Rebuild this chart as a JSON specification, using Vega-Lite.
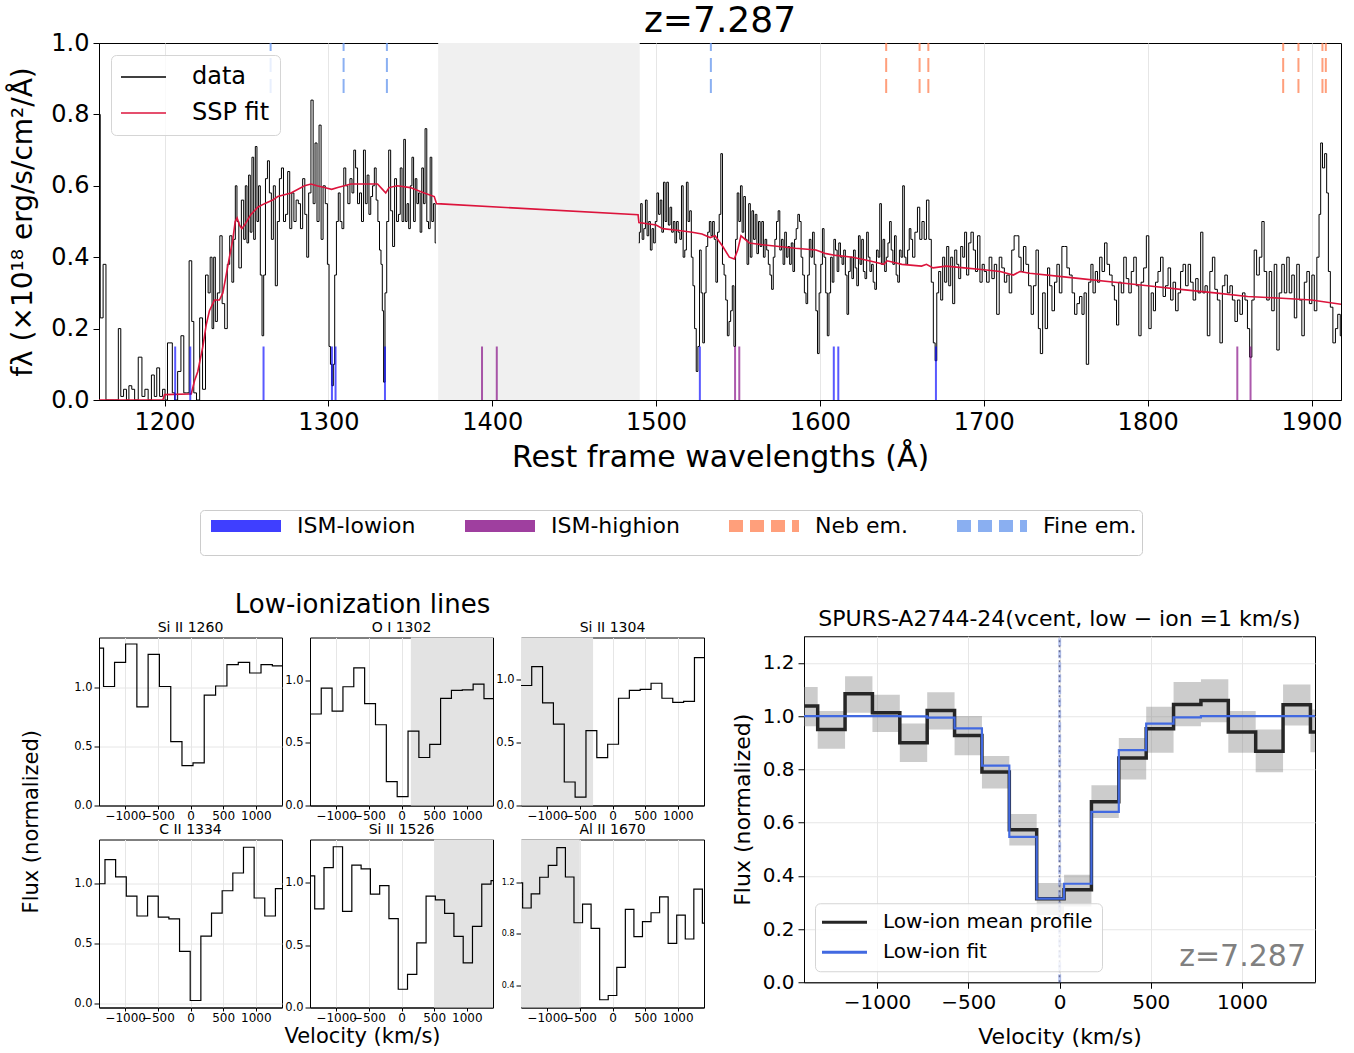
{
"$schema": "https://vega.github.io/schema/vega-lite/v6.json",
"padding": {"left": 9, "top": 2, "right": 5, "bottom": 0},
"config": {
  "font": "DejaVu Sans",
  "view": {"stroke": "black", "strokeWidth": 1},
  "axis": {"domainColor": "black", "tickColor": "black", "labelColor": "black", "titleColor": "black", "gridColor": "#e6e6e6", "titleFontWeight": "normal"},
  "title": {"fontWeight": "normal", "color": "black"},
  "legend": {"labelColor": "black", "labelLimit": 400}
},
"columns": 1,
"align": "none",
"spacing": {"row": 119, "column": 0},
"resolve": {"scale": {"color": "independent"}, "legend": {"color": "independent"}},
"concat": [
{
  "title": {"text": "z=7.287", "fontSize": 36, "offset": -9, "anchor": "middle"},
  "width": 1242, "height": 357,
  "layer": [
    {"data": {"values": [{"lo": 1367, "hi": 1490}]},
     "mark": {"type": "rect", "color": "#f0f0f0"},
     "encoding": {
       "x": {"field": "lo", "type": "quantitative", "scale": {"domain": [1160, 1918], "nice": false, "zero": false},
             "axis": {"values": [1200,1300,1400,1500,1600,1700,1800,1900], "format": "d", "labelFontSize": 24, "titleFontSize": 30, "tickSize": 6, "labelPadding": 4, "titlePadding": 8, "title": "Rest frame wavelengths (Å)", "labelFlush": false}},
       "x2": {"field": "hi"},
       "y": {"datum": 0, "type": "quantitative", "scale": {"domain": [0, 1], "nice": false, "zero": false},
             "axis": {"values": [0,0.2,0.4,0.6,0.8,1.0], "format": ".1f", "labelFontSize": 24, "titleFontSize": 28, "tickSize": 6, "labelPadding": 4, "titlePadding": 13, "title": "fλ (×10¹⁸ erg/s/cm²/Å)"}},
       "y2": {"datum": 1}}},
    {"data": {"name": "specL"},
     "mark": {"type": "line", "interpolate": "step", "strokeWidth": 1, "clip": true},
     "encoding": {
       "x": {"field": "w", "type": "quantitative"},
       "y": {"field": "f", "type": "quantitative"},
       "color": {"datum": "data", "type": "nominal", "scale": {"domain": ["data", "SSP fit"], "range": ["black", "crimson"]},
                 "legend": {"title": null, "orient": "top-left", "offset": 12, "symbolType": "M-2.4,0H6.6", "symbolSize": 100, "symbolStrokeWidth": 1.6, "labelFontSize": 24, "labelOffset": 47, "rowPadding": 12, "padding": 10, "fillColor": "rgba(255,255,255,0.8)", "strokeColor": "#d5d5d5", "cornerRadius": 5}}}},
    {"data": {"name": "specR"},
     "mark": {"type": "line", "interpolate": "step", "strokeWidth": 1, "clip": true},
     "encoding": {
       "x": {"field": "w", "type": "quantitative"},
       "y": {"field": "f", "type": "quantitative"},
       "color": {"datum": "data", "type": "nominal"}}},
    {"data": {"name": "fit"},
     "mark": {"type": "line", "strokeWidth": 1.6, "clip": true},
     "encoding": {
       "x": {"field": "w", "type": "quantitative"},
       "y": {"field": "f", "type": "quantitative"},
       "color": {"datum": "SSP fit", "type": "nominal"}}},
    {"data": {"name": "lines"},
     "transform": [{"filter": "datum.t === 'ISM-lowion' || datum.t === 'ISM-highion'"}],
     "mark": {"type": "rule", "strokeWidth": 2, "opacity": 0.65},
     "encoding": {
       "x": {"field": "w", "type": "quantitative"},
       "y": {"datum": 0}, "y2": {"datum": 0.15},
       "stroke": {"field": "t", "type": "nominal", "scale": {"domain": ["ISM-lowion", "ISM-highion", "Neb em.", "Fine em."], "range": ["blue", "purple", "coral", "cornflowerblue"]},
                 "legend": {"title": null, "orient": "none", "legendX": 101, "legendY": 467, "direction": "horizontal", "symbolType": "M-2.5,0H32.5", "symbolSize": 16, "symbolStrokeWidth": 12, "symbolOpacity": 1, "labelFontSize": 22, "labelOffset": 70, "columnPadding": 25, "padding": 5, "fillColor": "white", "strokeColor": "#cccccc", "cornerRadius": 4}},
       "strokeDash": {"field": "t", "type": "nominal", "scale": {"domain": ["ISM-lowion", "ISM-highion", "Neb em.", "Fine em."], "range": [[1, 0], [1, 0], [14, 7], [14, 7]]},
                 "legend": {"title": null, "orient": "none", "legendX": 101, "legendY": 467, "direction": "horizontal", "symbolType": "M-2.5,0H32.5", "symbolSize": 16, "symbolStrokeWidth": 12, "symbolOpacity": 1, "labelFontSize": 22, "labelOffset": 70, "columnPadding": 25, "padding": 5, "fillColor": "white", "strokeColor": "#cccccc", "cornerRadius": 4}}}},
    {"data": {"name": "lines"},
     "transform": [{"filter": "datum.t === 'Neb em.' || datum.t === 'Fine em.'"}],
     "mark": {"type": "rule", "strokeWidth": 2, "opacity": 0.75},
     "encoding": {
       "x": {"field": "w", "type": "quantitative"},
       "y": {"datum": 0.86}, "y2": {"datum": 1.0},
       "stroke": {"field": "t", "type": "nominal"},
       "strokeDash": {"field": "t", "type": "nominal"}}}
  ]
},
{
  "center": true,
  "spacing": 25,
  "resolve": {"scale": {"color": "independent"}, "legend": {"color": "independent"}},
  "hconcat": [
    {
      "title": {"text": "Velocity (km/s)", "orient": "bottom", "fontSize": 21, "offset": 2, "anchor": "middle"},
      "vconcat": [{
        "title": {"text": "Low-ionization lines", "fontSize": 26, "offset": 2, "anchor": "middle"},
        "vconcat": [{
          "title": {"text": "Flux (normalized)", "orient": "left", "fontSize": 21, "offset": 31, "anchor": "middle"},
          "columns": 3,
          "spacing": {"row": 0, "column": 0},
          "concat": [
            {"title": {"text": "Si II 1260", "fontSize": 14, "offset": 3, "anchor": "middle"}, "width": 183, "height": 168,
             "layer": [
               {"data": {"name": "prof"}, "transform": [{"filter": "datum.p === 'Si II 1260'"}],
                "mark": {"type": "line", "interpolate": "step", "color": "black", "strokeWidth": 1.2, "clip": true},
                "encoding": {
                  "x": {"field": "v", "type": "quantitative", "scale": {"domain": [-1400, 1400], "nice": false, "zero": false},
                        "axis": {"values": [-1000,-500,0,500,1000], "format": "d", "labelFontSize": 12, "tickSize": 3.5, "labelPadding": 1, "title": null, "labelOverlap": false, "labelFlush": false}},
                  "y": {"field": "f", "type": "quantitative", "scale": {"domain": [0, 1.42], "nice": false, "zero": false},
                        "axis": {"values": [0, 0.5, 1], "format": ".1f", "labelFontSize": 11.5, "tickSize": 5, "labelPadding": 2, "title": null, "minExtent": 26}}}}
             ]},
            {"title": {"text": "O I 1302", "fontSize": 14, "offset": 3, "anchor": "middle"}, "width": 183, "height": 168,
             "layer": [
               {"data": {"name": "mask"}, "transform": [{"filter": "datum.p === 'O I 1302'"}],
                "mark": {"type": "rect", "color": "#e3e3e3", "clip": true},
                "encoding": {"x": {"field": "lo", "type": "quantitative", "scale": {"domain": [-1400, 1400], "nice": false, "zero": false}}, "x2": {"field": "hi"},
                             "y": {"datum": -5, "type": "quantitative", "scale": {"domain": [0, 1.34], "nice": false, "zero": false}}, "y2": {"datum": 5}}},
               {"data": {"name": "prof"}, "transform": [{"filter": "datum.p === 'O I 1302'"}],
                "mark": {"type": "line", "interpolate": "step", "color": "black", "strokeWidth": 1.2, "clip": true},
                "encoding": {
                  "x": {"field": "v", "type": "quantitative",
                        "axis": {"values": [-1000,-500,0,500,1000], "format": "d", "labelFontSize": 12, "tickSize": 3.5, "labelPadding": 1, "title": null, "labelOverlap": false, "labelFlush": false}},
                  "y": {"field": "f", "type": "quantitative",
                        "axis": {"values": [0, 0.5, 1], "format": ".1f", "labelFontSize": 11.5, "tickSize": 5, "labelPadding": 2, "title": null, "minExtent": 26}}}}
             ]},
            {"title": {"text": "Si II 1304", "fontSize": 14, "offset": 3, "anchor": "middle"}, "width": 183, "height": 168,
             "layer": [
               {"data": {"name": "mask"}, "transform": [{"filter": "datum.p === 'Si II 1304'"}],
                "mark": {"type": "rect", "color": "#e3e3e3", "clip": true},
                "encoding": {"x": {"field": "lo", "type": "quantitative", "scale": {"domain": [-1400, 1400], "nice": false, "zero": false}}, "x2": {"field": "hi"},
                             "y": {"datum": -5, "type": "quantitative", "scale": {"domain": [0, 1.33], "nice": false, "zero": false}}, "y2": {"datum": 5}}},
               {"data": {"name": "prof"}, "transform": [{"filter": "datum.p === 'Si II 1304'"}],
                "mark": {"type": "line", "interpolate": "step", "color": "black", "strokeWidth": 1.2, "clip": true},
                "encoding": {
                  "x": {"field": "v", "type": "quantitative",
                        "axis": {"values": [-1000,-500,0,500,1000], "format": "d", "labelFontSize": 12, "tickSize": 3.5, "labelPadding": 1, "title": null, "labelOverlap": false, "labelFlush": false}},
                  "y": {"field": "f", "type": "quantitative",
                        "axis": {"values": [0, 0.5, 1], "format": ".1f", "labelFontSize": 11.5, "tickSize": 5, "labelPadding": 2, "title": null, "minExtent": 26}}}}
             ]},
            {"title": {"text": "C II  1334", "fontSize": 14, "offset": 3, "anchor": "middle"}, "width": 183, "height": 168,
             "layer": [
               {"data": {"name": "prof"}, "transform": [{"filter": "datum.p === 'C II 1334'"}],
                "mark": {"type": "line", "interpolate": "step", "color": "black", "strokeWidth": 1.2, "clip": true},
                "encoding": {
                  "x": {"field": "v", "type": "quantitative", "scale": {"domain": [-1400, 1400], "nice": false, "zero": false},
                        "axis": {"values": [-1000,-500,0,500,1000], "format": "d", "labelFontSize": 12, "tickSize": 3.5, "labelPadding": 1, "title": null, "labelOverlap": false, "labelFlush": false}},
                  "y": {"field": "f", "type": "quantitative", "scale": {"domain": [-0.03, 1.36], "nice": false, "zero": false},
                        "axis": {"values": [0, 0.5, 1], "format": ".1f", "labelFontSize": 11.5, "tickSize": 5, "labelPadding": 2, "title": null, "minExtent": 26}}}}
             ]},
            {"title": {"text": "Si II 1526", "fontSize": 14, "offset": 3, "anchor": "middle"}, "width": 183, "height": 168,
             "layer": [
               {"data": {"name": "mask"}, "transform": [{"filter": "datum.p === 'Si II 1526'"}],
                "mark": {"type": "rect", "color": "#e3e3e3", "clip": true},
                "encoding": {"x": {"field": "lo", "type": "quantitative", "scale": {"domain": [-1400, 1400], "nice": false, "zero": false}}, "x2": {"field": "hi"},
                             "y": {"datum": -5, "type": "quantitative", "scale": {"domain": [0, 1.345], "nice": false, "zero": false}}, "y2": {"datum": 5}}},
               {"data": {"name": "prof"}, "transform": [{"filter": "datum.p === 'Si II 1526'"}],
                "mark": {"type": "line", "interpolate": "step", "color": "black", "strokeWidth": 1.2, "clip": true},
                "encoding": {
                  "x": {"field": "v", "type": "quantitative",
                        "axis": {"values": [-1000,-500,0,500,1000], "format": "d", "labelFontSize": 12, "tickSize": 3.5, "labelPadding": 1, "title": null, "labelOverlap": false, "labelFlush": false}},
                  "y": {"field": "f", "type": "quantitative",
                        "axis": {"values": [0, 0.5, 1], "format": ".1f", "labelFontSize": 11.5, "tickSize": 5, "labelPadding": 2, "title": null, "minExtent": 26}}}}
             ]},
            {"title": {"text": "Al II 1670", "fontSize": 14, "offset": 3, "anchor": "middle"}, "width": 183, "height": 168,
             "layer": [
               {"data": {"name": "mask"}, "transform": [{"filter": "datum.p === 'Al II 1670'"}],
                "mark": {"type": "rect", "color": "#e3e3e3", "clip": true},
                "encoding": {"x": {"field": "lo", "type": "quantitative", "scale": {"domain": [-1400, 1400], "nice": false, "zero": false}}, "x2": {"field": "hi"},
                             "y": {"datum": -5, "type": "quantitative", "scale": {"domain": [0.23, 1.53], "nice": false, "zero": false}}, "y2": {"datum": 5}}},
               {"data": {"name": "prof"}, "transform": [{"filter": "datum.p === 'Al II 1670'"}],
                "mark": {"type": "line", "interpolate": "step", "color": "black", "strokeWidth": 1.2, "clip": true},
                "encoding": {
                  "x": {"field": "v", "type": "quantitative",
                        "axis": {"values": [-1000,-500,0,500,1000], "format": "d", "labelFontSize": 12, "tickSize": 3.5, "labelPadding": 1, "title": null, "labelOverlap": false, "labelFlush": false}},
                  "y": {"field": "f", "type": "quantitative",
                        "axis": {"values": [0.4, 0.6, 0.8, 1.0, 1.2, 1.4], "format": ".1f", "labelFontSize": 8, "tickSize": 5, "labelPadding": 2, "title": null, "minExtent": 26}}}}
             ]}
          ]
        }]
      }]
    },
    {
      "title": {"text": "SPURS-A2744-24(vcent, low − ion =1 km/s)", "fontSize": 22, "offset": 4, "anchor": "middle"},
      "width": 511, "height": 346,
      "layer": [
        {"data": {"name": "band"},
         "mark": {"type": "area", "interpolate": "step", "color": "grey", "opacity": 0.4, "clip": true},
         "encoding": {
           "x": {"field": "v", "type": "quantitative", "scale": {"domain": [-1400, 1400], "nice": false, "zero": false},
                 "axis": {"values": [-1000,-500,0,500,1000], "format": "d", "labelFontSize": 20, "titleFontSize": 22, "tickSize": 6, "labelPadding": 4, "titlePadding": 14, "title": "Velocity (km/s)", "labelFlush": false}},
           "y": {"field": "lo", "type": "quantitative", "scale": {"domain": [0, 1.3], "nice": false, "zero": false},
                 "axis": {"values": [0,0.2,0.4,0.6,0.8,1.0,1.2], "format": ".1f", "labelFontSize": 20, "titleFontSize": 22, "tickSize": 6, "labelPadding": 4, "titlePadding": 8, "title": "Flux (normalized)"}},
           "y2": {"field": "hi"}}},
        {"data": {"values": [{}]},
         "mark": {"type": "rule", "color": "royalblue", "opacity": 0.35, "strokeWidth": 3, "strokeDash": [8, 4]},
         "encoding": {"x": {"datum": 1}, "y": {"datum": 0}, "y2": {"datum": 1.3}}},
        {"data": {"values": [{}]},
         "mark": {"type": "rule", "color": "#555577", "opacity": 0.8, "strokeWidth": 1.5, "strokeDash": [2, 3]},
         "encoding": {"x": {"datum": 0}, "y": {"datum": 0}, "y2": {"datum": 1.3}}},
        {"data": {"name": "mean"},
         "mark": {"type": "line", "interpolate": "step", "strokeWidth": 3.5, "clip": true},
         "encoding": {
           "x": {"field": "v", "type": "quantitative"},
           "y": {"field": "f", "type": "quantitative"},
           "color": {"datum": "Low-ion mean profile", "type": "nominal", "scale": {"domain": ["Low-ion mean profile", "Low-ion fit"], "range": ["#262626", "royalblue"]},
                     "legend": {"title": null, "orient": "bottom-left", "offset": 11, "symbolType": "M-2.4,0H6.6", "symbolSize": 100, "symbolStrokeWidth": 3, "labelFontSize": 20, "labelOffset": 39, "labelLimit": 400, "rowPadding": 10, "padding": 9, "fillColor": "rgba(255,255,255,0.8)", "strokeColor": "#d5d5d5", "cornerRadius": 5}}}},
        {"data": {"name": "lfit"},
         "mark": {"type": "line", "interpolate": "step", "strokeWidth": 2.2, "clip": true},
         "encoding": {
           "x": {"field": "v", "type": "quantitative"},
           "y": {"field": "f", "type": "quantitative"},
           "color": {"datum": "Low-ion fit", "type": "nominal"}}},
        {"data": {"values": [{}]},
         "mark": {"type": "text", "align": "right", "baseline": "bottom", "fontSize": 30, "color": "grey", "dx": -9, "dy": -10},
         "encoding": {"x": {"datum": 1400}, "y": {"datum": 0}, "text": {"value": "z=7.287"}}}
      ]
    }
  ]
}
],
"datasets": {
"specL": [
{"w":1160,"f":0.80},{"w":1161.5,"f":0.23},{"w":1163.5,"f":0.38},{"w":1165,"f":0.0},{"w":1168,"f":0.0},{"w":1171,"f":0.0},{"w":1172.6,"f":0.20},{"w":1174,"f":0.01},{"w":1176,"f":0.03},{"w":1177.5,"f":0.0},{"w":1179,"f":0.04},{"w":1181,"f":0.03},{"w":1182.5,"f":0.0},{"w":1185.4,"f":0.12},{"w":1187,"f":0.01},{"w":1189,"f":0.03},{"w":1191,"f":0.0},{"w":1193,"f":0.07},{"w":1194.5,"f":0.01},{"w":1196,"f":0.09},{"w":1198,"f":0.01},{"w":1199.6,"f":0.03},{"w":1201,"f":0.0},{"w":1202.6,"f":0.16},{"w":1204,"f":0.16},{"w":1205.5,"f":0.02},{"w":1207,"f":0.0},{"w":1209,"f":0.08},{"w":1211,"f":0.18},{"w":1212.5,"f":0.02},{"w":1214,"f":0.02},{"w":1216,"f":0.39},{"w":1217.2,"f":0.22},{"w":1218.5,"f":0.02},{"w":1220.5,"f":0.0},{"w":1222.4,"f":0.23},{"w":1224,"f":0.03},{"w":1226,"f":0.35},{"w":1227.2,"f":0.30},{"w":1228.5,"f":0.40},{"w":1229.5,"f":0.20},{"w":1230.5,"f":0.40},{"w":1231.5,"f":0.22},{"w":1233,"f":0.30},{"w":1234.5,"f":0.46},{"w":1235.8,"f":0.27},{"w":1237.6,"f":0.20},{"w":1239,"f":0.38},{"w":1240.5,"f":0.46},{"w":1241.7,"f":0.33},{"w":1242.7,"f":0.45},{"w":1243.7,"f":0.60},{"w":1244.7,"f":0.50},{"w":1246,"f":0.37},{"w":1247.8,"f":0.56},{"w":1248.8,"f":0.45},{"w":1249.8,"f":0.60},{"w":1250.8,"f":0.44},{"w":1251.8,"f":0.63},{"w":1252.8,"f":0.47},{"w":1253.9,"f":0.68},{"w":1254.9,"f":0.45},{"w":1255.9,"f":0.71},{"w":1256.9,"f":0.50},{"w":1257.9,"f":0.60},{"w":1259,"f":0.35},{"w":1260,"f":0.18},{"w":1261,"f":0.35},{"w":1262.2,"f":0.62},{"w":1263.4,"f":0.67},{"w":1264.6,"f":0.58},{"w":1265.8,"f":0.45},{"w":1267,"f":0.60},{"w":1268.2,"f":0.32},{"w":1269.5,"f":0.50},{"w":1270.7,"f":0.62},{"w":1272,"f":0.65},{"w":1273.2,"f":0.50},{"w":1274.5,"f":0.52},{"w":1275.8,"f":0.64},{"w":1277,"f":0.48},{"w":1278.3,"f":0.58},{"w":1279.6,"f":0.50},{"w":1281,"f":0.56},{"w":1282.3,"f":0.55},{"w":1283.6,"f":0.48},{"w":1285,"f":0.62},{"w":1286.2,"f":0.52},{"w":1287.4,"f":0.40},{"w":1288.5,"f":0.58},{"w":1290.2,"f":0.84},{"w":1291.2,"f":0.55},{"w":1292.5,"f":0.72},{"w":1293.6,"f":0.50},{"w":1295,"f":0.77},{"w":1296.1,"f":0.45},{"w":1297.4,"f":0.60},{"w":1298.8,"f":0.55},{"w":1300,"f":0.38},{"w":1300.8,"f":0.15},{"w":1301.7,"f":0.10},{"w":1302.6,"f":0.04},{"w":1303.4,"f":0.10},{"w":1304.3,"f":0.35},{"w":1305.5,"f":0.50},{"w":1306.6,"f":0.58},{"w":1307.7,"f":0.50},{"w":1308.8,"f":0.48},{"w":1310,"f":0.65},{"w":1311.2,"f":0.60},{"w":1312.5,"f":0.55},{"w":1313.8,"f":0.62},{"w":1315,"f":0.58},{"w":1316,"f":0.70},{"w":1317.2,"f":0.65},{"w":1318.4,"f":0.55},{"w":1319.6,"f":0.58},{"w":1320.8,"f":0.50},{"w":1322,"f":0.70},{"w":1323.1,"f":0.55},{"w":1324.2,"f":0.63},{"w":1325.3,"f":0.52},{"w":1326.4,"f":0.57},{"w":1327.5,"f":0.60},{"w":1328.6,"f":0.65},{"w":1329.7,"f":0.56},{"w":1330.7,"f":0.50},{"w":1331.7,"f":0.42},{"w":1332.5,"f":0.38},{"w":1333.3,"f":0.25},{"w":1334.1,"f":0.05},{"w":1335,"f":0.30},{"w":1336.2,"f":0.50},{"w":1337.4,"f":0.70},{"w":1338.6,"f":0.53},{"w":1339.8,"f":0.43},{"w":1341,"f":0.62},{"w":1342.2,"f":0.50},{"w":1343.3,"f":0.52},{"w":1344.4,"f":0.65},{"w":1345.5,"f":0.50},{"w":1346.5,"f":0.73},{"w":1347.5,"f":0.50},{"w":1348.5,"f":0.55},{"w":1349.5,"f":0.48},{"w":1350.5,"f":0.60},{"w":1351.5,"f":0.68},{"w":1352.5,"f":0.50},{"w":1353.5,"f":0.62},{"w":1354.5,"f":0.55},{"w":1355.5,"f":0.58},{"w":1356.5,"f":0.47},{"w":1357.5,"f":0.65},{"w":1358.5,"f":0.55},{"w":1359.5,"f":0.76},{"w":1360.6,"f":0.50},{"w":1361.6,"f":0.48},{"w":1362.6,"f":0.68},{"w":1363.6,"f":0.50},{"w":1364.6,"f":0.55},{"w":1365.7,"f":0.44}
],
"specR": [
{"w":1489.4,"f":0.44},{"w":1490.2,"f":0.47},{"w":1491,"f":0.55},{"w":1492,"f":0.45},{"w":1493,"f":0.48},{"w":1494,"f":0.56},{"w":1495,"f":0.46},{"w":1496,"f":0.50},{"w":1497,"f":0.42},{"w":1498,"f":0.48},{"w":1499,"f":0.44},{"w":1500,"f":0.50},{"w":1501,"f":0.58},{"w":1502,"f":0.52},{"w":1503,"f":0.56},{"w":1504,"f":0.47},{"w":1505,"f":0.61},{"w":1506,"f":0.50},{"w":1507,"f":0.61},{"w":1508,"f":0.49},{"w":1509,"f":0.54},{"w":1510,"f":0.47},{"w":1511,"f":0.50},{"w":1512,"f":0.44},{"w":1513,"f":0.50},{"w":1514,"f":0.47},{"w":1515,"f":0.45},{"w":1516,"f":0.60},{"w":1517,"f":0.40},{"w":1518,"f":0.42},{"w":1519,"f":0.61},{"w":1520,"f":0.50},{"w":1521,"f":0.53},{"w":1522,"f":0.40},{"w":1523,"f":0.32},{"w":1524,"f":0.20},{"w":1525,"f":0.08},{"w":1526,"f":0.15},{"w":1527,"f":0.42},{"w":1528,"f":0.30},{"w":1529,"f":0.16},{"w":1530,"f":0.30},{"w":1531,"f":0.43},{"w":1532,"f":0.47},{"w":1533,"f":0.50},{"w":1534,"f":0.46},{"w":1535,"f":0.50},{"w":1536,"f":0.45},{"w":1537,"f":0.33},{"w":1538,"f":0.47},{"w":1539,"f":0.52},{"w":1540,"f":0.69},{"w":1541,"f":0.38},{"w":1542,"f":0.35},{"w":1543,"f":0.28},{"w":1544,"f":0.18},{"w":1545,"f":0.22},{"w":1546,"f":0.25},{"w":1547,"f":0.32},{"w":1548,"f":0.15},{"w":1549,"f":0.45},{"w":1550,"f":0.58},{"w":1551,"f":0.50},{"w":1552,"f":0.60},{"w":1553,"f":0.47},{"w":1554,"f":0.57},{"w":1555,"f":0.45},{"w":1556,"f":0.38},{"w":1557,"f":0.55},{"w":1558,"f":0.40},{"w":1559,"f":0.53},{"w":1560,"f":0.45},{"w":1561,"f":0.52},{"w":1562,"f":0.41},{"w":1563,"f":0.50},{"w":1564,"f":0.43},{"w":1565,"f":0.50},{"w":1566,"f":0.40},{"w":1567,"f":0.45},{"w":1568,"f":0.42},{"w":1569,"f":0.38},{"w":1570,"f":0.35},{"w":1571,"f":0.31},{"w":1572,"f":0.40},{"w":1573,"f":0.45},{"w":1574,"f":0.50},{"w":1575,"f":0.53},{"w":1576,"f":0.42},{"w":1577,"f":0.45},{"w":1578,"f":0.38},{"w":1579,"f":0.47},{"w":1580,"f":0.40},{"w":1581,"f":0.43},{"w":1582,"f":0.38},{"w":1583,"f":0.44},{"w":1584,"f":0.36},{"w":1585,"f":0.45},{"w":1586,"f":0.48},{"w":1587,"f":0.52},{"w":1588,"f":0.50},{"w":1589,"f":0.40},{"w":1590,"f":0.35},{"w":1591,"f":0.30},{"w":1592,"f":0.27},{"w":1593,"f":0.35},{"w":1594,"f":0.45},{"w":1595,"f":0.40},{"w":1596,"f":0.47},{"w":1597,"f":0.38},{"w":1598,"f":0.25},{"w":1599,"f":0.13},{"w":1600,"f":0.30},{"w":1601,"f":0.38},{"w":1602,"f":0.48},{"w":1603,"f":0.40},{"w":1604,"f":0.30},{"w":1605,"f":0.18},{"w":1606,"f":0.30},{"w":1607,"f":0.40},{"w":1608,"f":0.33},{"w":1609,"f":0.45},{"w":1610,"f":0.42},{"w":1611,"f":0.36},{"w":1612,"f":0.44},{"w":1613,"f":0.40},{"w":1614,"f":0.38},{"w":1615,"f":0.42},{"w":1616,"f":0.35},{"w":1617,"f":0.24},{"w":1618,"f":0.36},{"w":1619,"f":0.40},{"w":1620,"f":0.34},{"w":1621,"f":0.42},{"w":1622,"f":0.37},{"w":1623,"f":0.32},{"w":1624,"f":0.46},{"w":1625,"f":0.38},{"w":1626,"f":0.45},{"w":1627,"f":0.36},{"w":1628,"f":0.34},{"w":1629,"f":0.47},{"w":1630,"f":0.40},{"w":1631,"f":0.36},{"w":1632,"f":0.38},{"w":1633,"f":0.33},{"w":1634,"f":0.31},{"w":1635,"f":0.42},{"w":1636,"f":0.40},{"w":1637,"f":0.55},{"w":1638,"f":0.38},{"w":1639,"f":0.45},{"w":1640,"f":0.36},{"w":1641,"f":0.40},{"w":1642,"f":0.44},{"w":1643,"f":0.50},{"w":1644,"f":0.42},{"w":1645,"f":0.38},{"w":1646,"f":0.46},{"w":1647,"f":0.35},{"w":1648,"f":0.33},{"w":1649,"f":0.42},{"w":1650,"f":0.40},{"w":1651,"f":0.60},{"w":1652,"f":0.40},{"w":1653,"f":0.38},{"w":1654,"f":0.42},{"w":1655,"f":0.48},{"w":1656,"f":0.45},
{"w":1657.1,"f":0.40},{"w":1658.8,"f":0.47},{"w":1660.2,"f":0.54},{"w":1661.6,"f":0.45},{"w":1662.9,"f":0.50},{"w":1664.3,"f":0.45},{"w":1665.7,"f":0.56},{"w":1667.3,"f":0.45},{"w":1668.6,"f":0.33},{"w":1669.8,"f":0.16},{"w":1670.8,"f":0.11},{"w":1671.8,"f":0.30},{"w":1673.1,"f":0.36},{"w":1674.3,"f":0.28},{"w":1675.5,"f":0.40},{"w":1676.7,"f":0.33},{"w":1678,"f":0.43},{"w":1679.2,"f":0.32},{"w":1680.4,"f":0.40},{"w":1681.6,"f":0.27},{"w":1682.9,"f":0.42},{"w":1684.1,"f":0.38},{"w":1685.3,"f":0.34},{"w":1686.5,"f":0.43},{"w":1687.8,"f":0.40},{"w":1688.8,"f":0.47},{"w":1690.2,"f":0.35},{"w":1691.4,"f":0.44},{"w":1692.9,"f":0.47},{"w":1694.3,"f":0.42},{"w":1695.5,"f":0.36},{"w":1696.9,"f":0.46},{"w":1698.4,"f":0.33},{"w":1699.6,"f":0.38},{"w":1701,"f":0.36},{"w":1702.4,"f":0.33},{"w":1704.1,"f":0.40},{"w":1705.7,"f":0.34},{"w":1707.1,"f":0.38},{"w":1708.6,"f":0.24},{"w":1710.2,"f":0.40},{"w":1711.8,"f":0.37},{"w":1713.3,"f":0.33},{"w":1714.7,"f":0.35},{"w":1716.3,"f":0.30},{"w":1717.8,"f":0.42},{"w":1719.2,"f":0.46},{"w":1720.8,"f":0.46},{"w":1722,"f":0.40},{"w":1723.5,"f":0.36},{"w":1724.9,"f":0.43},{"w":1726.5,"f":0.38},{"w":1728.2,"f":0.32},{"w":1729.6,"f":0.24},{"w":1731,"f":0.32},{"w":1732.7,"f":0.42},{"w":1733.9,"f":0.20},{"w":1735.1,"f":0.13},{"w":1736.7,"f":0.30},{"w":1738.2,"f":0.20},{"w":1739.6,"f":0.37},{"w":1740.8,"f":0.32},{"w":1742.4,"f":0.25},{"w":1743.9,"f":0.33},{"w":1745.3,"f":0.38},{"w":1746.9,"f":0.30},{"w":1748.4,"f":0.43},{"w":1750,"f":0.43},{"w":1751.4,"f":0.37},{"w":1753.1,"f":0.35},{"w":1754.7,"f":0.30},{"w":1756.1,"f":0.24},{"w":1757.6,"f":0.27},{"w":1759.2,"f":0.29},{"w":1760.6,"f":0.24},{"w":1761.8,"f":0.30},{"w":1763.3,"f":0.10},{"w":1764.7,"f":0.33},{"w":1766,"f":0.38},{"w":1767.3,"f":0.30},{"w":1768.8,"f":0.36},{"w":1770,"f":0.33},{"w":1771.4,"f":0.40},{"w":1772.9,"f":0.36},{"w":1774.5,"f":0.44},{"w":1775.9,"f":0.38},{"w":1777.6,"f":0.35},{"w":1779,"f":0.32},{"w":1780.4,"f":0.28},{"w":1781.6,"f":0.21},{"w":1783.1,"f":0.33},{"w":1784.7,"f":0.30},{"w":1786.1,"f":0.40},{"w":1787.8,"f":0.34},{"w":1789.2,"f":0.30},{"w":1790.8,"f":0.36},{"w":1792.2,"f":0.40},{"w":1793.9,"f":0.32},{"w":1795.3,"f":0.18},{"w":1796.7,"f":0.33},{"w":1798.4,"f":0.37},{"w":1800,"f":0.46},{"w":1801.4,"f":0.20},{"w":1802.9,"f":0.30},{"w":1804.1,"f":0.25},{"w":1805.5,"f":0.33},{"w":1807.1,"f":0.36},{"w":1808.6,"f":0.40},{"w":1810.2,"f":0.29},{"w":1811.6,"f":0.32},{"w":1813.3,"f":0.37},{"w":1814.7,"f":0.28},{"w":1816.3,"f":0.33},{"w":1817.8,"f":0.25},{"w":1819.4,"f":0.30},{"w":1820.8,"f":0.36},{"w":1822.4,"f":0.38},{"w":1823.9,"f":0.32},{"w":1825.5,"f":0.38},{"w":1826.9,"f":0.33},{"w":1828.6,"f":0.28},{"w":1830,"f":0.34},{"w":1831.6,"f":0.30},{"w":1833.1,"f":0.47},{"w":1834.3,"f":0.30},{"w":1835.7,"f":0.32},{"w":1837.1,"f":0.18},{"w":1838.8,"f":0.36},{"w":1840.2,"f":0.40},{"w":1841.8,"f":0.31},{"w":1843.3,"f":0.28},{"w":1844.9,"f":0.16},{"w":1846.3,"f":0.32},{"w":1847.9,"f":0.35},{"w":1849.4,"f":0.30},{"w":1851,"f":0.32},{"w":1852.4,"f":0.28},{"w":1854.1,"f":0.22},{"w":1855.5,"f":0.28},{"w":1857.1,"f":0.24},{"w":1858.6,"f":0.30},{"w":1860.2,"f":0.28},{"w":1861.6,"f":0.20},{"w":1862.9,"f":0.12},{"w":1864.3,"f":0.28},{"w":1865.7,"f":0.42},{"w":1867.3,"f":0.35},{"w":1869,"f":0.40},{"w":1870.4,"f":0.50},{"w":1871.8,"f":0.36},{"w":1873.5,"f":0.28},{"w":1874.9,"f":0.36},{"w":1876.5,"f":0.25},{"w":1878,"f":0.38},{"w":1879.6,"f":0.14},{"w":1881,"f":0.30},{"w":1882.7,"f":0.38},{"w":1884.1,"f":0.30},{"w":1885.7,"f":0.40},{"w":1887.1,"f":0.30},{"w":1888.8,"f":0.35},{"w":1890.2,"f":0.23},{"w":1891.8,"f":0.38},{"w":1893.3,"f":0.28},{"w":1894.9,"f":0.18},{"w":1896.3,"f":0.33},{"w":1898,"f":0.36},{"w":1899.4,"f":0.27},{"w":1901,"f":0.35},{"w":1902.4,"f":0.25},{"w":1904.1,"f":0.40},{"w":1905.1,"f":0.52},{"w":1906.1,"f":0.72},{"w":1907.3,"f":0.65},{"w":1908.7,"f":0.69},{"w":1909.8,"f":0.58},{"w":1910.8,"f":0.36},{"w":1912.2,"f":0.26},{"w":1913.9,"f":0.16},{"w":1915.3,"f":0.20},{"w":1916.7,"f":0.24},{"w":1918.4,"f":0.18},{"w":1919.6,"f":0.27}
],
"fit": [
{"w":1160,"f":0.0},{"w":1199,"f":0.0},{"w":1200,"f":0.015},{"w":1215,"f":0.017},{"w":1216.3,"f":0.017},{"w":1218.3,"f":0.054},{"w":1220.3,"f":0.08},{"w":1223.4,"f":0.15},{"w":1225.4,"f":0.21},{"w":1227.4,"f":0.25},{"w":1230.5,"f":0.28},{"w":1233.5,"f":0.28},{"w":1235.6,"f":0.30},{"w":1237.6,"f":0.35},{"w":1239.6,"f":0.40},{"w":1241.7,"f":0.45},{"w":1243.1,"f":0.50},{"w":1244.3,"f":0.51},{"w":1245.7,"f":0.49},{"w":1247.2,"f":0.48},{"w":1248.8,"f":0.49},{"w":1252.8,"f":0.52},{"w":1256.9,"f":0.54},{"w":1261,"f":0.55},{"w":1266,"f":0.56},{"w":1269.1,"f":0.57},{"w":1277.2,"f":0.58},{"w":1285.4,"f":0.60},{"w":1289.4,"f":0.605},{"w":1293,"f":0.60},{"w":1297.6,"f":0.595},{"w":1302,"f":0.59},{"w":1305.7,"f":0.595},{"w":1313.8,"f":0.605},{"w":1322,"f":0.605},{"w":1330,"f":0.605},{"w":1333,"f":0.59},{"w":1335,"f":0.58},{"w":1337,"f":0.595},{"w":1342,"f":0.60},{"w":1350,"f":0.595},{"w":1358.5,"f":0.58},{"w":1364.6,"f":0.57},{"w":1366,"f":0.55},{"w":1489,"f":0.519},{"w":1489.5,"f":0.497},{"w":1500,"f":0.49},{"w":1504,"f":0.48},{"w":1514,"f":0.475},{"w":1522,"f":0.47},{"w":1528,"f":0.465},{"w":1533,"f":0.455},{"w":1536,"f":0.46},{"w":1540.7,"f":0.43},{"w":1544.7,"f":0.40},{"w":1547.7,"f":0.395},{"w":1549.8,"f":0.42},{"w":1551.8,"f":0.46},{"w":1556.9,"f":0.44},{"w":1565,"f":0.435},{"w":1575,"f":0.43},{"w":1585,"f":0.425},{"w":1597.6,"f":0.42},{"w":1603.7,"f":0.41},{"w":1609.8,"f":0.405},{"w":1620,"f":0.40},{"w":1630,"f":0.39},{"w":1639,"f":0.38},{"w":1641,"f":0.39},{"w":1650,"f":0.38},{"w":1662,"f":0.375},{"w":1665,"f":0.38},{"w":1669,"f":0.37},{"w":1677,"f":0.375},{"w":1688,"f":0.37},{"w":1700,"f":0.365},{"w":1710,"f":0.36},{"w":1718,"f":0.35},{"w":1722,"f":0.36},{"w":1728,"f":0.355},{"w":1749,"f":0.345},{"w":1759,"f":0.34},{"w":1780,"f":0.33},{"w":1800,"f":0.32},{"w":1820,"f":0.31},{"w":1841,"f":0.30},{"w":1861,"f":0.29},{"w":1882,"f":0.285},{"w":1900,"f":0.28},{"w":1918,"f":0.268}
],
"lines": [
{"w":1206.5,"t":"ISM-lowion"},{"w":1215.7,"t":"ISM-lowion"},{"w":1260.42,"t":"ISM-lowion"},{"w":1302.17,"t":"ISM-lowion"},{"w":1304.37,"t":"ISM-lowion"},{"w":1334.53,"t":"ISM-lowion"},{"w":1526.71,"t":"ISM-lowion"},{"w":1608.45,"t":"ISM-lowion"},{"w":1611.2,"t":"ISM-lowion"},{"w":1670.79,"t":"ISM-lowion"},
{"w":1393.76,"t":"ISM-highion"},{"w":1402.77,"t":"ISM-highion"},{"w":1548.2,"t":"ISM-highion"},{"w":1550.77,"t":"ISM-highion"},{"w":1854.72,"t":"ISM-highion"},{"w":1862.79,"t":"ISM-highion"},
{"w":1640.42,"t":"Neb em."},{"w":1660.81,"t":"Neb em."},{"w":1666.15,"t":"Neb em."},{"w":1882.71,"t":"Neb em."},{"w":1892.03,"t":"Neb em."},{"w":1906.68,"t":"Neb em."},{"w":1908.73,"t":"Neb em."},
{"w":1264.74,"t":"Fine em."},{"w":1309.28,"t":"Fine em."},{"w":1335.71,"t":"Fine em."},{"w":1533.43,"t":"Fine em."}
],
"prof": [
{"p":"Si II 1260","v":-1416,"f":1.33},{"p":"Si II 1260","v":-1245,"f":1.006},{"p":"Si II 1260","v":-1079,"f":1.21},{"p":"Si II 1260","v":-907,"f":1.365},{"p":"Si II 1260","v":-734,"f":0.834},{"p":"Si II 1260","v":-563,"f":1.278},{"p":"Si II 1260","v":-389,"f":1.006},{"p":"Si II 1260","v":-215,"f":0.54},{"p":"Si II 1260","v":-46,"f":0.337},{"p":"Si II 1260","v":123,"f":0.36},{"p":"Si II 1260","v":297,"f":0.933},{"p":"Si II 1260","v":471,"f":1.01},{"p":"Si II 1260","v":644,"f":1.19},{"p":"Si II 1260","v":818,"f":1.21},{"p":"Si II 1260","v":992,"f":1.12},{"p":"Si II 1260","v":1166,"f":1.19},{"p":"Si II 1260","v":1339,"f":1.18},{"p":"Si II 1260","v":1511,"f":1.18},
{"p":"O I 1302","v":-1477,"f":0.73},{"p":"O I 1302","v":-1311,"f":0.73},{"p":"O I 1302","v":-1145,"f":0.937},{"p":"O I 1302","v":-979,"f":0.752},{"p":"O I 1302","v":-813,"f":0.947},{"p":"O I 1302","v":-647,"f":1.098},{"p":"O I 1302","v":-481,"f":0.813},{"p":"O I 1302","v":-315,"f":0.644},{"p":"O I 1302","v":-149,"f":0.19},{"p":"O I 1302","v":17,"f":0.071},{"p":"O I 1302","v":183,"f":0.594},{"p":"O I 1302","v":349,"f":0.383},{"p":"O I 1302","v":515,"f":0.488},{"p":"O I 1302","v":681,"f":0.855},{"p":"O I 1302","v":847,"f":0.918},{"p":"O I 1302","v":1013,"f":0.923},{"p":"O I 1302","v":1179,"f":0.968},{"p":"O I 1302","v":1345,"f":0.852},{"p":"O I 1302","v":1511,"f":0.852},
{"p":"Si II 1304","v":-1485,"f":0.95},{"p":"Si II 1304","v":-1319,"f":0.95},{"p":"Si II 1304","v":-1153,"f":1.10},{"p":"Si II 1304","v":-987,"f":0.812},{"p":"Si II 1304","v":-821,"f":0.645},{"p":"Si II 1304","v":-655,"f":0.186},{"p":"Si II 1304","v":-489,"f":0.066},{"p":"Si II 1304","v":-323,"f":0.592},{"p":"Si II 1304","v":-157,"f":0.379},{"p":"Si II 1304","v":9,"f":0.485},{"p":"Si II 1304","v":175,"f":0.849},{"p":"Si II 1304","v":341,"f":0.912},{"p":"Si II 1304","v":507,"f":0.92},{"p":"Si II 1304","v":673,"f":0.968},{"p":"Si II 1304","v":839,"f":0.849},{"p":"Si II 1304","v":1005,"f":0.817},{"p":"Si II 1304","v":1171,"f":0.825},{"p":"Si II 1304","v":1337,"f":1.17},{"p":"Si II 1304","v":1503,"f":1.17},
{"p":"C II 1334","v":-1553,"f":0.994},{"p":"C II 1334","v":-1390,"f":0.994},{"p":"C II 1334","v":-1227,"f":1.193},{"p":"C II 1334","v":-1064,"f":1.05},{"p":"C II 1334","v":-901,"f":0.892},{"p":"C II 1334","v":-738,"f":0.727},{"p":"C II 1334","v":-575,"f":0.892},{"p":"C II 1334","v":-412,"f":0.718},{"p":"C II 1334","v":-249,"f":0.704},{"p":"C II 1334","v":-86,"f":0.434},{"p":"C II 1334","v":77,"f":0.028},{"p":"C II 1334","v":240,"f":0.561},{"p":"C II 1334","v":403,"f":0.751},{"p":"C II 1334","v":566,"f":0.936},{"p":"C II 1334","v":729,"f":1.083},{"p":"C II 1334","v":892,"f":1.296},{"p":"C II 1334","v":1055,"f":0.876},{"p":"C II 1334","v":1218,"f":0.727},{"p":"C II 1334","v":1381,"f":0.953},{"p":"C II 1334","v":1544,"f":0.953},
{"p":"Si II 1526","v":-1541,"f":1.053},{"p":"Si II 1526","v":-1399,"f":1.053},{"p":"Si II 1526","v":-1257,"f":0.79},{"p":"Si II 1526","v":-1115,"f":1.12},{"p":"Si II 1526","v":-973,"f":1.287},{"p":"Si II 1526","v":-831,"f":0.77},{"p":"Si II 1526","v":-689,"f":1.14},{"p":"Si II 1526","v":-547,"f":1.11},{"p":"Si II 1526","v":-405,"f":0.907},{"p":"Si II 1526","v":-263,"f":0.976},{"p":"Si II 1526","v":-121,"f":0.711},{"p":"Si II 1526","v":21,"f":0.146},{"p":"Si II 1526","v":163,"f":0.265},{"p":"Si II 1526","v":305,"f":0.517},{"p":"Si II 1526","v":447,"f":0.891},{"p":"Si II 1526","v":589,"f":0.862},{"p":"Si II 1526","v":731,"f":0.753},{"p":"Si II 1526","v":873,"f":0.57},{"p":"Si II 1526","v":1015,"f":0.358},{"p":"Si II 1526","v":1157,"f":0.65},{"p":"Si II 1526","v":1299,"f":0.987},{"p":"Si II 1526","v":1441,"f":1.016},
{"p":"Al II 1670","v":-1571,"f":1.194},{"p":"Al II 1670","v":-1440,"f":1.194},{"p":"Al II 1670","v":-1310,"f":1.0},{"p":"Al II 1670","v":-1179,"f":1.11},{"p":"Al II 1670","v":-1048,"f":1.238},{"p":"Al II 1670","v":-917,"f":1.33},{"p":"Al II 1670","v":-786,"f":1.467},{"p":"Al II 1670","v":-655,"f":1.24},{"p":"Al II 1670","v":-524,"f":0.886},{"p":"Al II 1670","v":-393,"f":1.03},{"p":"Al II 1670","v":-262,"f":0.842},{"p":"Al II 1670","v":-131,"f":0.29},{"p":"Al II 1670","v":0,"f":0.323},{"p":"Al II 1670","v":131,"f":0.541},{"p":"Al II 1670","v":262,"f":0.989},{"p":"Al II 1670","v":393,"f":0.778},{"p":"Al II 1670","v":524,"f":0.894},{"p":"Al II 1670","v":655,"f":0.963},{"p":"Al II 1670","v":786,"f":1.086},{"p":"Al II 1670","v":917,"f":0.726},{"p":"Al II 1670","v":1048,"f":0.945},{"p":"Al II 1670","v":1179,"f":0.76},{"p":"Al II 1670","v":1310,"f":1.146},{"p":"Al II 1670","v":1441,"f":0.883},{"p":"Al II 1670","v":1572,"f":0.883}
],
"mask": [
{"p":"O I 1302","lo":143,"hi":1500},{"p":"Si II 1304","lo":-1500,"hi":-297},{"p":"Si II 1526","lo":500,"hi":1500},{"p":"Al II 1670","lo":-1500,"hi":-500}
],
"mean": [
{"v":-1400,"f":1.038},{"v":-1250,"f":0.95},{"v":-1100,"f":1.084},{"v":-950,"f":1.013},{"v":-800,"f":0.90},{"v":-650,"f":1.021},{"v":-500,"f":0.927},{"v":-350,"f":0.79},{"v":-200,"f":0.573},{"v":-50,"f":0.314},{"v":100,"f":0.348},{"v":250,"f":0.678},{"v":400,"f":0.843},{"v":550,"f":0.952},{"v":700,"f":1.044},{"v":850,"f":1.059},{"v":1000,"f":0.94},{"v":1150,"f":0.868},{"v":1300,"f":1.043},{"v":1450,"f":0.94}
],
"lfit": [
{"v":-1400,"f":1.0},{"v":-1250,"f":1.0},{"v":-1100,"f":1.0},{"v":-950,"f":1.0},{"v":-800,"f":0.999},{"v":-650,"f":0.994},{"v":-500,"f":0.954},{"v":-350,"f":0.814},{"v":-200,"f":0.546},{"v":-50,"f":0.314},{"v":100,"f":0.37},{"v":250,"f":0.64},{"v":400,"f":0.872},{"v":550,"f":0.972},{"v":700,"f":0.995},{"v":850,"f":1.0},{"v":1000,"f":1.0},{"v":1150,"f":1.0},{"v":1300,"f":1.0},{"v":1450,"f":1.0}
],
"band": [
{"v":-1400,"lo":0.962,"hi":1.109},{"v":-1250,"lo":0.877,"hi":1.019},{"v":-1100,"lo":1.013,"hi":1.15},{"v":-950,"lo":0.94,"hi":1.08},{"v":-800,"lo":0.828,"hi":0.972},{"v":-650,"lo":0.95,"hi":1.09},{"v":-500,"lo":0.853,"hi":1.0},{"v":-350,"lo":0.728,"hi":0.85},{"v":-200,"lo":0.514,"hi":0.632},{"v":-50,"lo":0.253,"hi":0.373},{"v":100,"lo":0.285,"hi":0.404},{"v":250,"lo":0.617,"hi":0.74},{"v":400,"lo":0.762,"hi":0.918},{"v":550,"lo":0.862,"hi":1.035},{"v":700,"lo":0.962,"hi":1.128},{"v":850,"lo":0.977,"hi":1.138},{"v":1000,"lo":0.862,"hi":1.019},{"v":1150,"lo":0.789,"hi":0.95},{"v":1300,"lo":0.965,"hi":1.119},{"v":1450,"lo":0.864,"hi":1.025}
]
}
}
